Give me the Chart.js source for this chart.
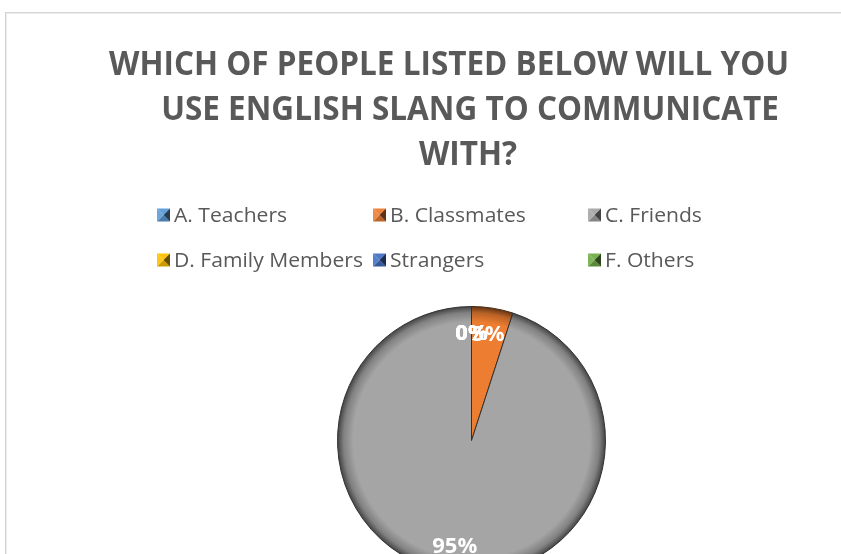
<!DOCTYPE html>
<html>
<head>
<meta charset="utf-8">
<script src="https://cdn.jsdelivr.net/npm/chart.js"></script>
<style>
  html, body { margin: 0; padding: 0; background: #fff; overflow: hidden; }
  #frame {
    position: absolute; left: 5px; top: 12px; width: 900px; height: 700px;
    border: 1px solid #d4d4d4; box-shadow: inset 1px 1px 0 #ececec;
  }
  #chart { position: absolute; left: 0; top: 0; }
</style>
</head>
<body>
<div id="frame"></div>
<canvas id="chart" width="841" height="700"></canvas>
<script>
const TITLE_LINES = [
  "WHICH OF PEOPLE LISTED BELOW WILL YOU",
  "USE ENGLISH SLANG TO COMMUNICATE",
  "WITH?",
];
const CATEGORIES = [
  "A. Teachers",
  "B. Classmates",
  "C. Friends",
  "D. Family Members",
  "Strangers",
  "F. Others",
];
const SHARES = [0, 5, 95, 0, 0, 0];
const COLORS = ["#5b9bd5", "#ed7d31", "#a5a5a5", "#ffc000", "#4472c4", "#70ad47"];

const TEXT_COLOR = "#595959";

// mix a hex colour toward black (amt < 0) or white (amt > 0)
const shade = (hex, amt) => {
  const n = parseInt(hex.slice(1), 16);
  const ch = [(n >> 16) & 255, (n >> 8) & 255, n & 255].map((c) =>
    Math.round(amt < 0 ? c * (1 + amt) : c + (255 - c) * amt),
  );
  return `rgb(${ch.join(",")})`;
};

// radial gradient that darkens the rim of each slice (bevel look)
const bevelFill = (ctx) => {
  const base = COLORS[ctx.dataIndex];
  const area = ctx.chart.chartArea;
  if (!area) return base;
  const cx = (area.left + area.right) / 2;
  const cy = (area.top + area.bottom) / 2;
  const r = Math.min(area.right - area.left, area.bottom - area.top) / 2;
  const g = ctx.chart.ctx.createRadialGradient(cx, cy, 0, cx, cy, r);
  g.addColorStop(0, base);
  g.addColorStop(0.88, base);
  g.addColorStop(0.95, shade(base, -0.22));
  g.addColorStop(1, shade(base, -0.62));
  return g;
};

const titlePlugin = {
  id: "stackedTitle",
  afterDraw(chart) {
    const ctx = chart.ctx;
    const centers = [449, 470, 468];
    const baselines = [75, 120, 165];
    ctx.save();
    ctx.font = "bold 34px 'Open Sans'";
    ctx.fillStyle = TEXT_COLOR;
    ctx.textBaseline = "alphabetic";
    ctx.textAlign = "center";
    const sx = 680 / ctx.measureText(TITLE_LINES[0]).width;
    TITLE_LINES.forEach((line, i) => {
      ctx.save();
      ctx.translate(centers[i], baselines[i]);
      ctx.scale(sx, 1);
      ctx.fillText(line, 0, 0);
      ctx.restore();
    });
    ctx.restore();
  },
};

const legendPlugin = {
  id: "gridLegend",
  afterDraw(chart) {
    const ctx = chart.ctx;
    const cols = [157, 373, 588];
    const rows = [215, 260];
    const s = 13;
    ctx.save();
    ctx.font = "20px 'Open Sans'";
    ctx.textBaseline = "middle";
    ctx.textAlign = "left";
    // stretch text slightly so the longest entry spans its column
    const sx = 189 / ctx.measureText(CATEGORIES[3]).width;
    CATEGORIES.forEach((name, i) => {
      const x = cols[i % 3];
      const y = rows[Math.floor(i / 3)];
      const c = COLORS[i];
      const top = y - s / 2;
      const mx = x + s / 2;
      const my = y;
      // pyramid marker: four triangles meeting in the middle
      const tri = (pts, col) => {
        ctx.beginPath();
        ctx.moveTo(pts[0], pts[1]);
        ctx.lineTo(pts[2], pts[3]);
        ctx.lineTo(mx, my);
        ctx.closePath();
        ctx.fillStyle = col;
        ctx.fill();
      };
      tri([x, top, x + s, top], shade(c, 0.05));
      tri([x, top + s, x + s, top + s], shade(c, -0.2));
      tri([x, top, x, top + s], shade(c, 0.1));
      tri([x + s, top, x + s, top + s], shade(c, -0.6));
      ctx.save();
      ctx.translate(x + s + 4, y + 1);
      ctx.scale(sx, 1);
      ctx.fillStyle = TEXT_COLOR;
      ctx.fillText(name, 0, 0);
      ctx.restore();
    });
    ctx.restore();
  },
};

const valueLabels = {
  id: "valueLabels",
  afterDatasetsDraw(chart) {
    const ctx = chart.ctx;
    const meta = chart.getDatasetMeta(0);
    ctx.save();
    ctx.font = "bold 22px 'Open Sans'";
    ctx.fillStyle = "#ffffff";
    ctx.textAlign = "center";
    ctx.textBaseline = "middle";
    meta.data.forEach((arc, i) => {
      const p = arc.getProps(["x", "y", "startAngle", "endAngle", "outerRadius"], true);
      const mid = (p.startAngle + p.endAngle) / 2;
      const d = p.outerRadius * 0.8;
      ctx.fillText(SHARES[i] + "%", p.x + Math.cos(mid) * d, p.y + Math.sin(mid) * d);
    });
    ctx.restore();
  },
};

new Chart(document.getElementById("chart"), {
  type: "pie",
  data: {
    labels: CATEGORIES,
    datasets: [
      {
        data: SHARES,
        backgroundColor: bevelFill,
        borderColor: COLORS.map((c) => shade(c, -0.7)),
        borderWidth: 1,
      },
    ],
  },
  options: {
    responsive: false,
    animation: false,
    layout: { padding: { top: 306, bottom: 125, left: 337, right: 235 } },
    plugins: {
      legend: { display: false },
      title: { display: false },
      tooltip: { enabled: false },
    },
  },
  plugins: [valueLabels, titlePlugin, legendPlugin],
});
</script>
</body>
</html>
